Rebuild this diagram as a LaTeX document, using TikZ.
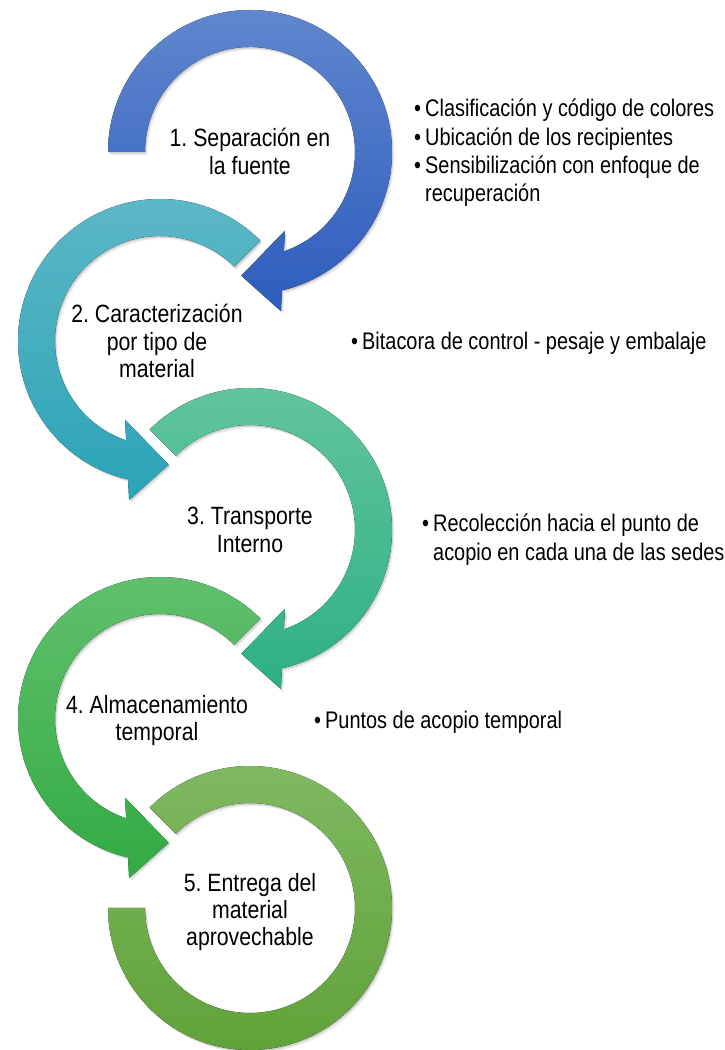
\documentclass[tikz,border=0pt]{standalone}
\usepackage{fontspec}
\setmainfont{Liberation Sans}
\newfontfamily\lblfont[FakeStretch=0.85]{Liberation Sans}
\newfontfamily\bulfont[FakeStretch=0.83]{Liberation Sans}
\usetikzlibrary{shadows}
\frenchspacing
\definecolor{aAt}{HTML}{6086CE}
\definecolor{aAb}{HTML}{2D5CBC}
\definecolor{aBt}{HTML}{5EB8C6}
\definecolor{aBb}{HTML}{2BA3B7}
\definecolor{aCt}{HTML}{64C59D}
\definecolor{aCb}{HTML}{2DB084}
\definecolor{aDt}{HTML}{63C06D}
\definecolor{aDb}{HTML}{32AB44}
\definecolor{aEt}{HTML}{80B963}
\definecolor{aEb}{HTML}{5FA137}
\begin{document}
\begin{tikzpicture}[x=1pt,y=1pt,
  lbl/.style={align=center, inner sep=0pt, text=black, font=\lblfont\frenchspacing\fontsize{25}{27.3}\selectfont},
  bul/.style={anchor=base west, inner sep=0pt, text=black, font=\bulfont\frenchspacing\fontsize{24}{28.3}\selectfont},
  band/.style={draw=none,
    drop shadow={shadow xshift=2.5pt, shadow yshift=-3pt, opacity=0.07, fill=black},
    drop shadow={shadow xshift=1.2pt, shadow yshift=-1.6pt, opacity=0.12, fill=black}},
]
\fill[white] (0,0) rectangle (724,1050);
\useasboundingbox (0,0) rectangle (724,1050);

% centres of the five arcs
\coordinate (c1) at (250,898);
\coordinate (c2) at (160,709);
\coordinate (c3) at (250,520);
\coordinate (c4) at (160,331);
\coordinate (c5) at (250,142);

% arc 5 (closed ring with gap)
\begin{scope}[shift={(250,142)}]
\fill[band, top color=aEt, bottom color=aEb]
  (135:142) arc[start angle=135, end angle=-180, radius=142]
  -- (-180:105) arc[start angle=-180, end angle=135, radius=105] -- cycle;
\end{scope}

% arc 4 (counter-clockwise)
\begin{scope}[shift={(160,331)}]
\fill[band, top color=aDt, bottom color=aDb]
  (45:142) arc[start angle=45, end angle=257, radius=142]
  -- (259:162) -- (274:124) -- (246:86) -- (251.2:105)
  arc[start angle=251.2, end angle=45, radius=105] -- cycle;
\end{scope}

% arc 3 (clockwise)
\begin{scope}[shift={(250,520)}]
\fill[band, top color=aCt, bottom color=aCb]
  (135:142) arc[start angle=135, end angle=-77, radius=142]
  -- (-79:162) -- (-94:124) -- (-66:86) -- (-71.2:105)
  arc[start angle=-71.2, end angle=135, radius=105] -- cycle;
\end{scope}

% arc 2 (counter-clockwise)
\begin{scope}[shift={(160,709)}]
\fill[band, top color=aBt, bottom color=aBb]
  (45:142) arc[start angle=45, end angle=257, radius=142]
  -- (259:162) -- (274:124) -- (246:86) -- (251.2:105)
  arc[start angle=251.2, end angle=45, radius=105] -- cycle;
\end{scope}

% arc 1 (clockwise)
\begin{scope}[shift={(250,898)}]
\fill[band, top color=aAt, bottom color=aAb]
  (180:142) arc[start angle=180, end angle=-77, radius=142]
  -- (-79:162) -- (-94:124) -- (-66:86) -- (-71.2:105)
  arc[start angle=-71.2, end angle=180, radius=105] -- cycle;
\end{scope}

% labels
\node[lbl] (l1) at (250,898.5) {1. Separación en\\la fuente};
\node[lbl] (l2) at (157,709) {2. Caracterización\\por tipo de\\material};
\node[lbl] (l3) at (250,520) {3. Transporte\\Interno};
\node[lbl] (l4) at (157,329.5) {4. Almacenamiento\\temporal};
\node[lbl] (l5) at (250,138) {5. Entrega del\\material\\aprovechable};

% bullet texts
\node[bul] (b1) at (414,933) {\begin{tabular}[t]{@{}l@{}l@{}}
\makebox[11pt][l]{•} & Clasificación y código de colores\\
\makebox[11pt][l]{•} & Ubicación de los recipientes\\
\makebox[11pt][l]{•} & Sensibilización con enfoque de\\
 & recuperación
\end{tabular}};
\node[bul] (b2) at (351,700) {\begin{tabular}[t]{@{}l@{}l@{}}
\makebox[11pt][l]{•} & Bitacora de control - pesaje y embalaje
\end{tabular}};
\node[bul] (b3) at (422,518) {\begin{tabular}[t]{@{}l@{}l@{}}
\makebox[11pt][l]{•} & Recolección hacia el punto de\\
 & acopio en cada una de las sedes
\end{tabular}};
\node[bul] (b4) at (314,321) {\begin{tabular}[t]{@{}l@{}l@{}}
\makebox[11pt][l]{•} & Puntos de acopio temporal
\end{tabular}};
\end{tikzpicture}
\end{document}
